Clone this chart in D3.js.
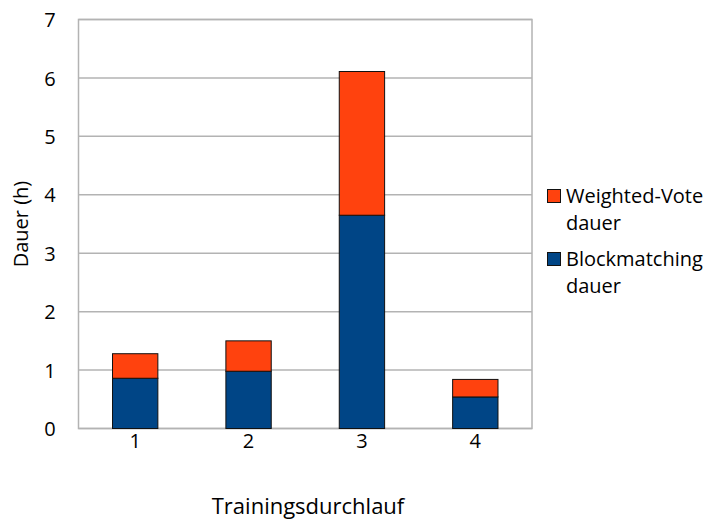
<!DOCTYPE html>
<html>
<head>
<meta charset="utf-8">
<script src="https://cdn.jsdelivr.net/npm/d3@7"></script>
<style>
  body { margin: 0; background: #fff; }
  text { font-family: "Open Sans", "Liberation Sans", sans-serif; fill: #000; }
</style>
</head>
<body>
<svg id="chart" width="706" height="521"></svg>
<script>
// Training runs and their durations in hours
const categories = ["1", "2", "3", "4"];
const blockmatching = [0.86, 0.98, 3.65, 0.54];
const weightedVote = [0.42, 0.52, 2.46, 0.30];
const yTicks = [0, 1, 2, 3, 4, 5, 6, 7];
const seriesNames = ["Weighted-Vote dauer", "Blockmatching dauer"];

const colors = { block: "#004586", vote: "#ff420e" };

const svg = d3.select("#chart");
const x0 = 78.5, x1 = 532, y0 = 428.5, y1 = 19.5;

const x = d3.scaleBand().domain(categories).range([x0, x1]).paddingInner(0.6).paddingOuter(0.3);
const y = d3.scaleLinear().domain([0, 7]).range([y0, y1]);

// Horizontal gridlines
svg.append("g").selectAll("line").data(yTicks).join("line")
  .attr("x1", x0).attr("x2", x1)
  .attr("y1", d => y(d)).attr("y2", d => y(d))
  .attr("stroke", "#b3b3b3").attr("stroke-width", 1.5);

// Plot frame
svg.append("rect").attr("x", x0).attr("y", y1).attr("width", x1 - x0).attr("height", y0 - y1)
  .attr("fill", "none").attr("stroke", "#b3b3b3").attr("stroke-width", 1.5);

// Stacked bars
const data = categories.map((c, i) => ({ c, b: blockmatching[i], v: weightedVote[i] }));
const bars = svg.append("g");
bars.selectAll("rect.block").data(data).join("rect").attr("class", "block")
  .attr("x", d => x(d.c)).attr("width", x.bandwidth())
  .attr("y", d => y(d.b)).attr("height", d => y(0) - y(d.b))
  .attr("fill", colors.block).attr("stroke", "#111").attr("stroke-width", 1);
bars.selectAll("rect.vote").data(data).join("rect").attr("class", "vote")
  .attr("x", d => x(d.c)).attr("width", x.bandwidth())
  .attr("y", d => y(d.b + d.v)).attr("height", d => y(d.b) - y(d.b + d.v))
  .attr("fill", colors.vote).attr("stroke", "#111").attr("stroke-width", 1);

// Y axis labels
const yAxis = d3.axisLeft(y).tickValues(yTicks).tickSize(0).tickPadding(0).tickFormat(d3.format("d"));
const gy = svg.append("g").attr("transform", "translate(50,0)").call(yAxis);
gy.select(".domain").remove();
gy.selectAll("text").attr("font-size", 20).attr("text-anchor", "middle").attr("dx", 0).attr("dy", "0.36em");

// X axis labels
const xAxis = d3.axisBottom(x).tickSize(0).tickPadding(0);
const gx = svg.append("g").attr("transform", "translate(0,434)").call(xAxis);
gx.select(".domain").remove();
gx.selectAll("text").attr("font-size", 20);

// Axis titles
svg.append("text").attr("x", 308).attr("y", 514)
  .attr("text-anchor", "middle").attr("font-size", 22).text("Trainingsdurchlauf");
svg.append("text").attr("transform", `translate(28,${(y0 + y1) / 2}) rotate(-90)`)
  .attr("text-anchor", "middle").attr("font-size", 20).text("Dauer (h)");

// Legend
const legend = [
  { name: seriesNames[0], color: colors.vote, y: 196 },
  { name: seriesNames[1], color: colors.block, y: 259 }
];
const lg = svg.append("g");
legend.forEach(l => {
  lg.append("rect").attr("x", 547.5).attr("y", l.y - 6.5).attr("width", 13).attr("height", 13)
    .attr("fill", l.color).attr("stroke", "#111").attr("stroke-width", 1);
  const words = l.name.split(" ");
  lg.append("text").attr("x", 566).attr("y", l.y).attr("dy", "0.36em").attr("font-size", 20).text(words[0]);
  lg.append("text").attr("x", 566).attr("y", l.y + 27).attr("dy", "0.36em").attr("font-size", 20).text(words[1]);
});
</script>
</body>
</html>
